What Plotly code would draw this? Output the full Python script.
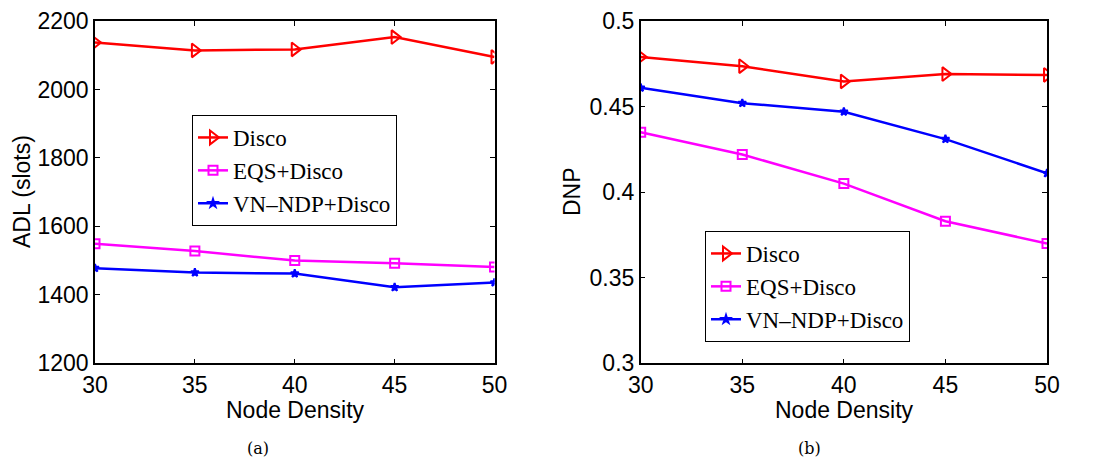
import plotly.graph_objects as go

density = [30, 35, 40, 45, 50]

adl_disco = [2137, 2114, 2117, 2153, 2095]
adl_eqs = [1549, 1528, 1500, 1492, 1481]
adl_vn = [1478, 1465, 1462, 1422, 1436]

dnp_disco = [0.479, 0.4736, 0.4647, 0.469, 0.4685]
dnp_eqs = [0.435, 0.422, 0.405, 0.383, 0.370]
dnp_vn = [0.461, 0.452, 0.447, 0.431, 0.411]

names = ["Disco", "EQS+Disco", "VN\u2013NDP+Disco"]
colors = ["#ff0000", "#ff00ff", "#0000ff"]
symbols = ["triangle-right-open", "square-open", "star"]
msizes = [12, 9, 6]

adl_ticks = [1200, 1400, 1600, 1800, 2000, 2200]
dnp_ticks = [0.3, 0.35, 0.4, 0.45, 0.5]
dnp_ticktext = ["0.3", "0.35", "0.4", "0.45", "0.5"]

fig = go.Figure()

for i, ys in enumerate([adl_disco, adl_eqs, adl_vn]):
    fig.add_trace(go.Scatter(
        x=density, y=ys, name=names[i], mode="lines+markers",
        line=dict(color=colors[i], width=2.5),
        marker=dict(symbol=symbols[i], size=msizes[i], color=colors[i],
                    line=dict(color=colors[i], width=2)),
        xaxis="x", yaxis="y", legend="legend"))

for i, ys in enumerate([dnp_disco, dnp_eqs, dnp_vn]):
    fig.add_trace(go.Scatter(
        x=density, y=ys, name=names[i], mode="lines+markers",
        line=dict(color=colors[i], width=2.5),
        marker=dict(symbol=symbols[i], size=msizes[i], color=colors[i],
                    line=dict(color=colors[i], width=2)),
        xaxis="x2", yaxis="y2", legend="legend2"))

axis_font = dict(family="Liberation Sans, Arial", size=23, color="black")
common_x = dict(range=[30, 50], tickvals=density, ticks="inside", ticklen=5,
                tickcolor="black", showline=True, linecolor="black", linewidth=1.5,
                mirror="allticks", showgrid=False, zeroline=False, tickfont=axis_font,
                automargin=False)
common_y = dict(ticks="inside", ticklen=5, tickcolor="black", showline=True,
                linecolor="black", linewidth=1.5, mirror="allticks",
                showgrid=False, zeroline=False, tickfont=axis_font, automargin=False)

W, H = 1098, 461
ydom = [(H - 363.3) / H, (H - 21) / H]

legend_style = dict(font=dict(family="Liberation Serif, Times New Roman", size=23, color="black"),
                    bordercolor="black", borderwidth=1, bgcolor="white",
                    xanchor="left", yanchor="top", tracegroupgap=0)

fig.update_layout(
    width=W, height=H,
    margin=dict(l=0, r=0, t=0, b=0, autoexpand=False),
    paper_bgcolor="white", plot_bgcolor="white",
    xaxis=dict(domain=[95 / W, 494.5 / W], anchor="y", **common_x),
    yaxis=dict(domain=ydom, anchor="x", range=[1200, 2200], tickvals=adl_ticks, **common_y),
    xaxis2=dict(domain=[640.7 / W, 1047 / W], anchor="y2", **common_x),
    yaxis2=dict(domain=ydom, anchor="x2", range=[0.3, 0.5], tickvals=dnp_ticks,
                ticktext=dnp_ticktext, **common_y),
    legend=dict(x=192 / W, y=(H - 115) / H, **legend_style),
    legend2=dict(x=705 / W, y=(H - 231) / H, **legend_style),
    showlegend=True,
)

ann_font = dict(family="Liberation Sans, Arial", size=23, color="black")
cap_font = dict(family="DejaVu Serif, Liberation Serif", size=16, color="black")
anns = [
    dict(text="ADL (slots)", x=22 / W, y=(H - 192) / H, textangle=-90, font=ann_font),
    dict(text="DNP", x=572 / W, y=(H - 192) / H, textangle=-90, font=ann_font),
    dict(text="Node Density", x=295 / W, y=(H - 410) / H, font=ann_font),
    dict(text="Node Density", x=844 / W, y=(H - 410) / H, font=ann_font),
    dict(text="(a)", x=258 / W, y=(H - 448) / H, font=cap_font),
    dict(text="(b)", x=809 / W, y=(H - 448) / H, font=cap_font),
]
for a in anns:
    fig.add_annotation(xref="paper", yref="paper", showarrow=False,
                       xanchor="center", yanchor="middle", **a)

fig.write_html("out.html")
